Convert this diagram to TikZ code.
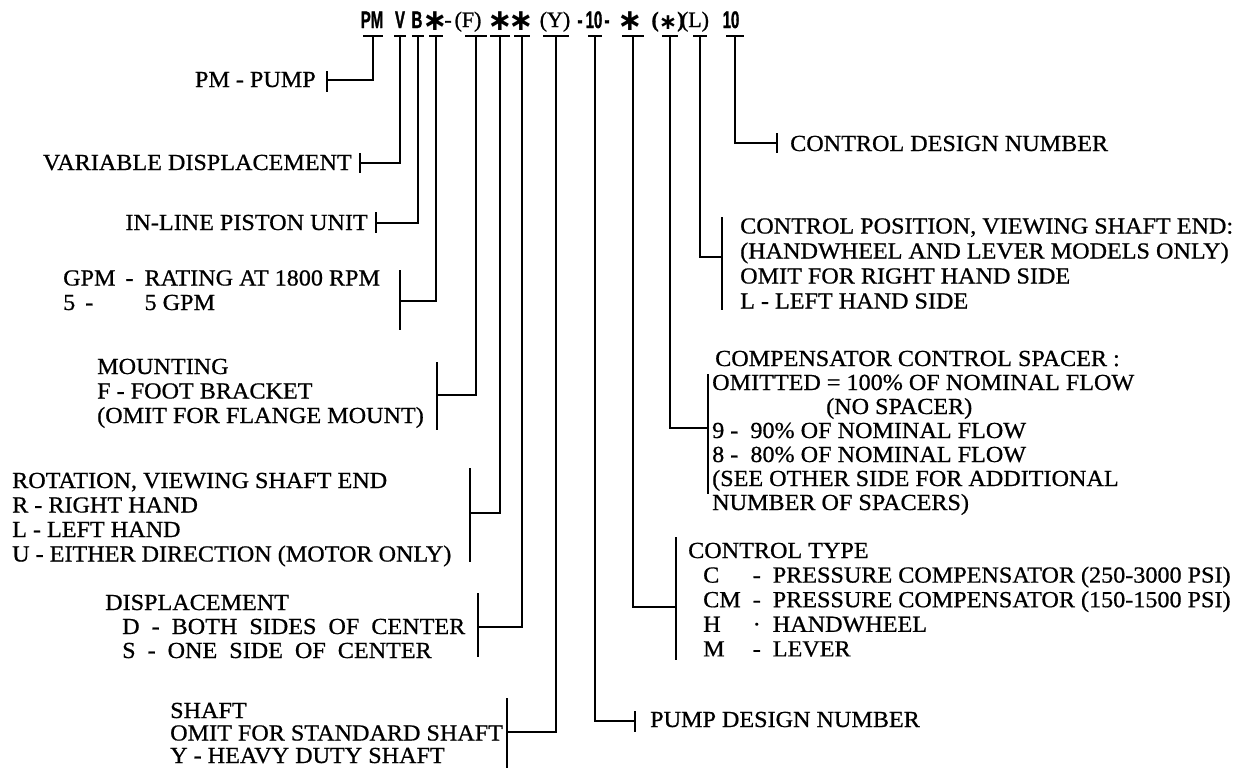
\documentclass[tikz,border=0pt]{standalone}
\usepackage{fontspec}
\setmainfont{Liberation Serif}[FakeStretch=1.05,FakeBold=0.7]
\newfontfamily\codesans{Liberation Sans Bold}[FakeStretch=0.62,FakeBold=1.2]
\newfontfamily\codeserif{Liberation Serif}[FakeBold=1.2]
\newfontfamily\astfont{DejaVu Sans}
\newcommand{\lblfont}{\fontsize{23}{24.5}\selectfont}
\begin{document}
\begin{tikzpicture}[x=1pt,y=-1pt,
  wire/.style={line width=1.7pt},
  lbl/.style={inner sep=0pt, anchor=base west, font=\lblfont},
  cs/.style={inner sep=0pt, anchor=base, font=\codesans\fontsize{24}{24}\selectfont},
  cr/.style={inner sep=0pt, anchor=base, font=\codeserif\fontsize{22}{22}\selectfont},
  ca/.style={inner sep=0pt, anchor=base, font=\astfont\bfseries\fontsize{30}{30}\selectfont}]
\useasboundingbox (0,0) rectangle (1247,769);
\fill[white] (0,0) rectangle (1247,769);

% ---- code row ----
\node[cs] (cPM) at (372,28) {PM};
\node[cs] (cV)  at (400,28) {V};
\node[cs] (cB)  at (417,28) {B};
\node[ca] (cA1) at (435,30) {∗};
\node[cr] (cD1) at (448,27) {-};
\node[cr] (cF)  at (468,27) {(F)};
\node[ca] (cA2) at (500,30) {∗};
\node[ca] (cA3) at (521,30) {∗};
\node[cr] (cY)  at (555,27) {(Y)};
\node[cs] (cD2) at (580,28) {-};
\node[cs] (c10a) at (594,28) {10};
\node[cs] (cD3) at (607,28) {-};
\node[ca] (cA4) at (630,30) {∗};
\node[cr] (cPA) at (668,27) {\bfseries(\raisebox{-2pt}{\astfont\fontsize{22}{22}\selectfont ∗})};
\node[cr] (cL)  at (695,27) {(L)};
\node[cs] (c10b) at (731,28) {10};

% ---- tick tops ----
\coordinate (tPM) at (373,36);
\coordinate (tV)  at (400,36);
\coordinate (tB)  at (418,36);
\coordinate (tG)  at (436,36);
\coordinate (tF)  at (476,36);
\coordinate (tR)  at (500,36);
\coordinate (tD)  at (522,36);
\coordinate (tY)  at (556,36);
\coordinate (tP)  at (595,36);
\coordinate (tT)  at (633,36);
\coordinate (tS)  at (670,36);
\coordinate (tL)  at (700,36);
\coordinate (tN)  at (735,36);
\foreach \c/\w in {tPM/10,tV/6,tB/6,tG/7,tF/11,tR/10,tD/8,tY/13,tP/7,tT/11,tS/8,tL/7,tN/9}
  \draw[wire] ([xshift=-\w pt]\c) -- ([xshift=\w pt]\c);

% ---- bar junctions ----
\coordinate (bPM) at (327,80);
\coordinate (bV)  at (360,163);
\coordinate (bB)  at (376,223);
\coordinate (bG)  at (400,301);
\coordinate (bF)  at (437,395);
\coordinate (bR)  at (470,513);
\coordinate (bD)  at (478,627);
\coordinate (bY)  at (507,732);
\coordinate (bP)  at (635,721);
\coordinate (bT)  at (676,607);
\coordinate (bS)  at (708,428);
\coordinate (bL)  at (722,257);
\coordinate (bN)  at (777,143);

% ---- connectors ----
\foreach \n in {PM,V,B,G,F,R,D,Y,P,T,S,L,N}
  \draw[wire] (t\n) |- (b\n);

% ---- bars ----
\draw[wire] (327,71) -- (327,92);
\draw[wire] (360,153) -- (360,173);
\draw[wire] (376,212) -- (376,233);
\draw[wire] (400,270) -- (400,330);
\draw[wire] (437,362) -- (437,430);
\draw[wire] (470,468) -- (470,562);
\draw[wire] (478,593) -- (478,657);
\draw[wire] (507,698) -- (507,768);
\draw[wire] (635,711) -- (635,732);
\draw[wire] (676,537) -- (676,660);
\draw[wire] (708,374) -- (708,494);
\draw[wire] (722,217) -- (722,310);
\draw[wire] (777,133) -- (777,153);

% ---- labels ----
\node[lbl, anchor=base east] (lPM) at (316,87) {PM - PUMP};
\node[lbl, anchor=base east] (lV) at (352,170) {VARIABLE DISPLACEMENT};
\node[lbl, anchor=base east] (lB) at (368,230) {IN-LINE PISTON UNIT};
\node[lbl] (lG) at (63,285.5) {\begin{tabular}[t]{@{}l@{}l@{}}GPM\hspace{10pt}-\hspace{11pt} & RATING AT 1800 RPM\\ 5\hspace{10pt}- & 5 GPM\end{tabular}};
\node[lbl] (lF) at (97,374) {\begin{tabular}[t]{@{}l@{}}MOUNTING\\ F - FOOT BRACKET\\ (OMIT FOR FLANGE MOUNT)\end{tabular}};
\node[lbl] (lR) at (12,488) {\begin{tabular}[t]{@{}l@{}}ROTATION, VIEWING SHAFT END\\ R - RIGHT HAND\\ L - LEFT HAND\\ U - EITHER DIRECTION (MOTOR ONLY)\end{tabular}};
\node[lbl, font=\fontsize{23}{24}\selectfont] (lD) at (105,610) {\begin{tabular}[t]{@{}l@{}}DISPLACEMENT\\
 \hspace*{17pt}D\hspace{12pt}-\hspace{12pt}BOTH\hspace{12pt}SIDES\hspace{12pt}OF\hspace{12pt}CENTER\\
 \hspace*{17pt}S\hspace{12pt}-\hspace{12pt}ONE\hspace{12pt}SIDE\hspace{12pt}OF\hspace{12pt}CENTER\end{tabular}};
\node[lbl, font=\fontsize{23}{22.5}\selectfont] (lY) at (170,718) {\begin{tabular}[t]{@{}l@{}}SHAFT\\ OMIT FOR STANDARD SHAFT\\ Y - HEAVY DUTY SHAFT\end{tabular}};
\node[lbl] (lP) at (650,727) {PUMP DESIGN NUMBER};
\node[lbl, font=\fontsize{23}{24.6}\selectfont] (lT) at (688,558) {\begin{tabular}[t]{@{}l@{\hspace{12pt}}l@{\hspace{12pt}}l@{}}\multicolumn{3}{@{}l@{}}{CONTROL TYPE}\\
 \hspace*{15pt}C & - & PRESSURE COMPENSATOR (250-3000 PSI)\\
 \hspace*{15pt}CM & - & PRESSURE COMPENSATOR (150-1500 PSI)\\
 \hspace*{15pt}H & · & HANDWHEEL\\
 \hspace*{15pt}M & - & LEVER\end{tabular}};
\node[lbl, font=\fontsize{23}{24}\selectfont] (lS) at (712,366) {\begin{tabular}[t]{@{}l@{}}\hspace*{3pt}COMPENSATOR CONTROL SPACER :\\
 OMITTED = 100\% OF NOMINAL FLOW\\
 \hspace*{114pt}(NO SPACER)\\
 9 -\ \ 90\% OF NOMINAL FLOW\\
 8 -\ \ 80\% OF NOMINAL FLOW\\
 (SEE OTHER SIDE FOR ADDITIONAL\\
 NUMBER OF SPACERS)\end{tabular}};
\node[lbl, font=\fontsize{23}{25}\selectfont] (lL) at (740,233.5) {\begin{tabular}[t]{@{}l@{}}CONTROL POSITION, VIEWING SHAFT END:\\
 (HANDWHEEL AND LEVER MODELS ONLY)\\
 OMIT FOR RIGHT HAND SIDE\\
 L - LEFT HAND SIDE\end{tabular}};
\node[lbl] (lN) at (790,151) {CONTROL DESIGN NUMBER};
\end{tikzpicture}
\end{document}
